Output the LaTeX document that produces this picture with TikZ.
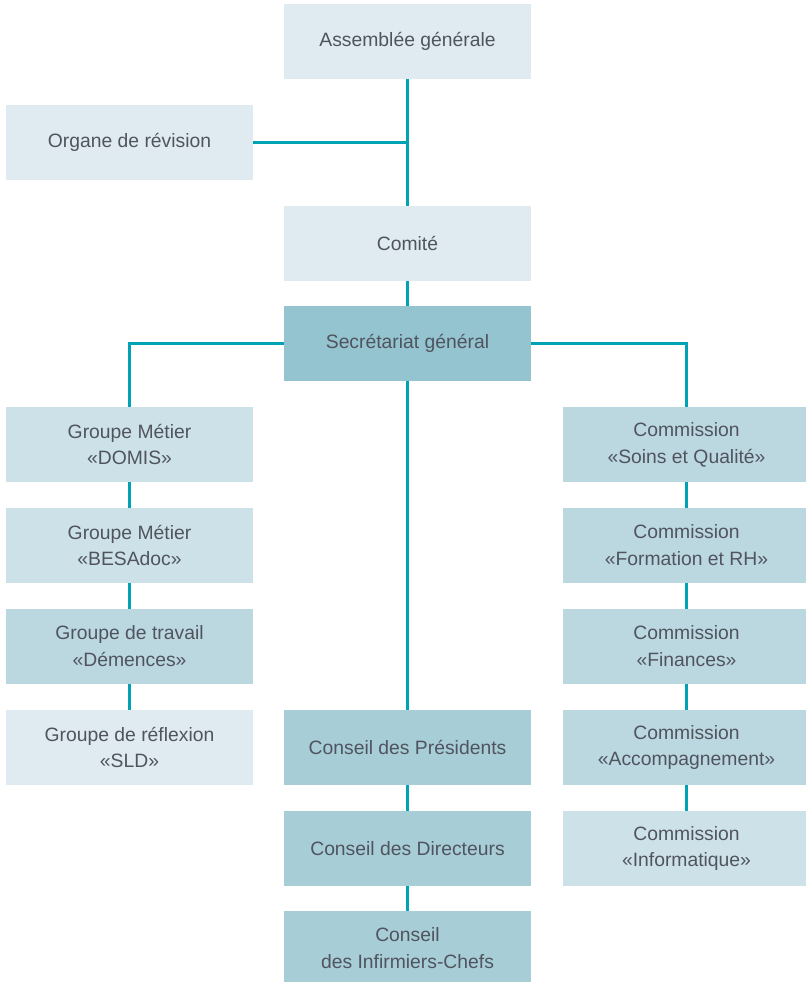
\documentclass[tikz,border=0pt]{standalone}
\usepackage{fontspec}
\setmainfont{Liberation Sans}
\usepackage{xcolor}
\usepackage{tikz}
\definecolor{ink}{HTML}{50545F}
\definecolor{teal}{HTML}{00A3B4}
\definecolor{pale}{HTML}{DFEBF1}
\definecolor{soft}{HTML}{CDE2E8}
\definecolor{mid}{HTML}{BBD8E0}
\definecolor{deep}{HTML}{94C4CF}
\definecolor{council}{HTML}{A7CDD6}
\tikzset{
  box/.style={rectangle, inner sep=0pt, minimum width=4.94cm, minimum height=1.5cm,
    align=center, text=ink, font=\fontsize{11}{15.3}\selectfont},
  boxA/.style={box, fill=pale},
  boxB/.style={box, fill=soft},
  boxC/.style={box, fill=mid},
  boxD/.style={box, fill=deep},
  boxE/.style={box, fill=council},
  link/.style={draw=teal, line width=1.7pt},
}

\begin{document}
\begin{tikzpicture}[x=0.02cm, y=-0.02cm]
  \useasboundingbox (0,0) rectangle (805,982);

  \node[boxA] (ag)  at (407.5,41.5)  {Assemblée générale};
  \node[boxA] (rev) at (129.5,142.5) {Organe de révision};
  \node[boxA] (com) at (407.5,243.5) {Comité};
  \node[boxD] (sec) at (407.5,343.5) {Secrétariat général};

  \node[boxB] (g1) at (129.5,444.5) {Groupe Métier\\«DOMIS»};
  \node[boxB] (g2) at (129.5,545.5) {Groupe Métier\\«BESAdoc»};
  \node[boxC] (g3) at (129.5,646.5) {Groupe de travail\\«Démences»};
  \node[boxA] (g4) at (129.5,747.5) {Groupe de réflexion\\«SLD»};

  \node[boxC] (c1) at (686.5,444.5) {Commission\\«Soins et Qualité»};
  \node[boxC] (c2) at (686.5,545.5) {Commission\\«Formation et RH»};
  \node[boxC] (c3) at (686.5,646.5) {Commission\\«Finances»};
  \node[boxC] (c4) at (686.5,747.5) {Commission\\«Accompagnement»};
  \node[boxB] (c5) at (686.5,848.5) {Commission\\«Informatique»};

  \node[boxE] (p1) at (407.5,747.5) {Conseil des Présidents};
  \node[boxE] (p2) at (407.5,848.5) {Conseil des Directeurs};
  \node[boxE] (p3) at (407.5,948.5) {Conseil\\des Infirmiers-Chefs};

  \draw[link] (ag) -- (com);
  \draw[link] (rev.east) -- (rev.east -| ag);
  \draw[link] (com) -- (sec);
  \draw[link] (sec.west) -| (g1);
  \draw[link] (sec.east) -| (c1);
  \draw[link] (sec) -- (p1);

  \foreach \a/\b in {g1/g2, g2/g3, g3/g4, c1/c2, c2/c3, c3/c4, c4/c5, p1/p2, p2/p3}
    \draw[link] (\a) -- (\b);
\end{tikzpicture}
\end{document}
